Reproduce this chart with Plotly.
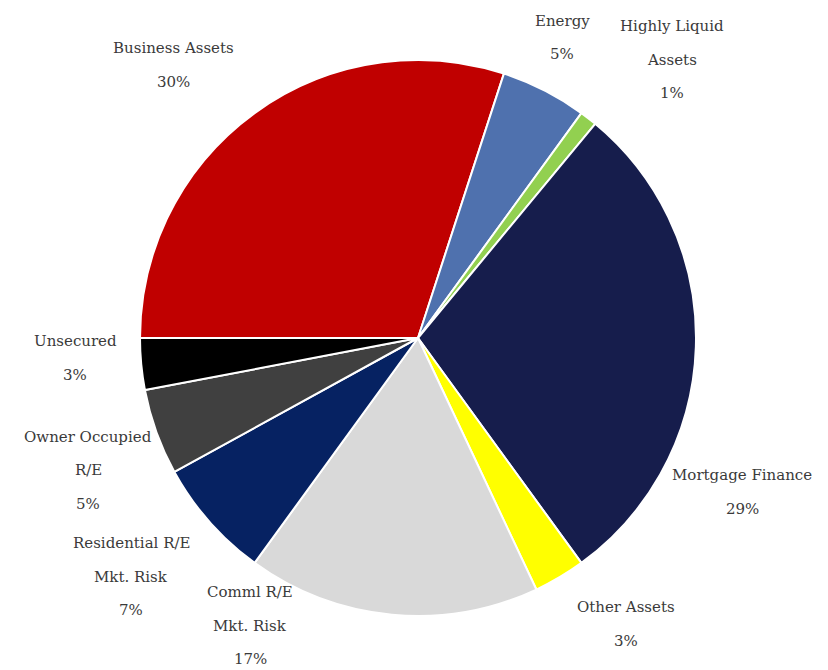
import plotly.graph_objects as go

# Portfolio mix by category (percent of total), listed clockwise from 9 o'clock
categories = [
    "Business Assets",
    "Energy",
    "Highly Liquid\nAssets",
    "Mortgage Finance",
    "Other Assets",
    "Comml R/E\nMkt. Risk",
    "Residential R/E\nMkt. Risk",
    "Owner Occupied\nR/E",
    "Unsecured",
]
shares = [30, 5, 1, 29, 3, 17, 7, 5, 3]

slice_colors = [
    "#C00000", "#4F71AE", "#92D050", "#161D4C", "#FFFF00",
    "#D9D9D9", "#062262", "#404040", "#000000",
]

# label anchor points in pixels (x, y of first line) and line spacing
W, H = 828, 670
label_pos = [
    (173, 48), (562, 21), (672, 26), (742, 475), (626, 607),
    (250, 592), (131, 543), (88, 437), (75, 341),
]
line_gap = 33.5

# pie placement: centre (418, 338), radius 278 px
cx, cy, r = 418, 338, 278

fig = go.Figure(
    go.Pie(
        labels=[c.replace("\n", " ") for c in categories],
        values=shares,
        sort=False,
        direction="clockwise",
        rotation=270,
        textinfo="none",
        hoverinfo="label+percent",
        marker=dict(colors=slice_colors, line=dict(color="white", width=2)),
        domain=dict(x=[(cx - r) / W, (cx + r) / W],
                    y=[1 - (cy + r) / H, 1 - (cy - r) / H]),
        showlegend=False,
    )
)

annotations = []
for cat, val, (lx, ly) in zip(categories, shares, label_pos):
    lines = cat.split("\n") + [f"{val}%"]
    for i, line in enumerate(lines):
        annotations.append(dict(
            x=lx / W, y=1 - (ly + i * line_gap) / H,
            xref="paper", yref="paper",
            text=line, showarrow=False,
            xanchor="center", yanchor="middle",
            font=dict(family="DejaVu Serif", size=15, color="#3a3a3a"),
        ))

fig.update_layout(
    width=W, height=H,
    margin=dict(l=0, r=0, t=0, b=0),
    paper_bgcolor="white",
    plot_bgcolor="white",
    annotations=annotations,
)

fig.write_html("out.html")
